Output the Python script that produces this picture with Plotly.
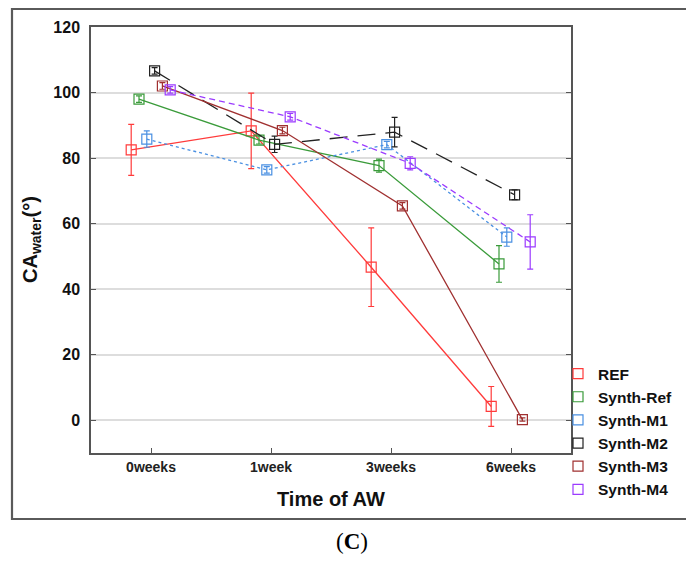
import plotly.graph_objects as go

categories = ["0weeks", "1week", "3weeks", "6weeks"]

series_names = ["REF", "Synth-Ref", "Synth-M1", "Synth-M2", "Synth-M3", "Synth-M4"]

ref_vals = [82.5, 88.3, 46.7, 4.2]
ref_err = [7.8, 11.5, 12.0, 6.1]

synth_ref_vals = [98.0, 85.5, 77.7, 47.7]
synth_ref_err = [1.0, 1.2, 2.0, 5.6]

m1_vals = [85.8, 76.4, 84.1, 55.9]
m1_err = [2.5, 1.0, 1.0, 2.8]

m2_vals = [106.6, 84.2, 87.9, 68.8]
m2_err = [1.0, 2.5, 4.5, 1.5]

m3_vals = [102.0, 88.4, 65.4, 0.2]
m3_err = [1.0, 1.0, 1.0, 0.5]

m4_vals = [100.8, 92.6, 78.4, 54.4]
m4_err = [1.0, 1.0, 2.0, 8.3]

y_ticks = [0, 20, 40, 60, 80, 100, 120]

values = [ref_vals, synth_ref_vals, m1_vals, m2_vals, m3_vals, m4_vals]
errors = [ref_err, synth_ref_err, m1_err, m2_err, m3_err, m4_err]

colors = ["#FF3B3B", "#3A9B3A", "#4A90E2", "#222222", "#A03030", "#9B3BFF"]
dashes = ["solid", "solid", "dot", "18px,10px", "solid", "6px,4px"]
offsets = [-0.165, -0.1, -0.035, 0.03, 0.095, 0.16]

fig = go.Figure()

for name, vals, errs, col, dsh, off in zip(series_names, values, errors, colors, dashes, offsets):
    xs = [i + off for i in range(len(categories))]
    fig.add_trace(go.Scatter(
        x=xs, y=vals, mode="lines+markers", name=name, showlegend=False,
        line=dict(color=col, width=1.3, dash=dsh),
        marker=dict(symbol="square-open", size=10, color=col, line=dict(width=1.2, color=col)),
        error_y=dict(type="data", array=errs, visible=True, color=col, thickness=1.2, width=3),
    ))

for name, col in zip(series_names, colors):
    fig.add_trace(go.Scatter(
        x=[None], y=[None], mode="markers", name=name,
        marker=dict(symbol="square-open", size=10, color=col, line=dict(width=1.2, color=col)),
    ))

L, R, T, B = 91, 115, 27, 108
W, H = 686, 561
pw, ph = W - L - R, H - T - B

def px_x(x):
    return (x - L) / pw

def px_y(y):
    return (H - B - y) / ph

frame_col = "#5A5A5A"
shapes = [
    dict(type="rect", xref="paper", yref="paper", x0=px_x(12), x1=px_x(700), y0=px_y(519), y1=px_y(9),
         line=dict(color=frame_col, width=2.2), fillcolor="rgba(0,0,0,0)", layer="above"),
]

annotations = [
    dict(text="<b>Time of AW</b>", xref="paper", yref="paper", x=0.5, y=px_y(499),
         showarrow=False, font=dict(size=20, color="#111111", family="Liberation Sans, Arial"),
         xanchor="center", yanchor="middle"),
    dict(text="<b>CA<sub>water</sub>(°)</b>", xref="paper", yref="paper", x=px_x(31), y=0.5,
         showarrow=False, textangle=-90, font=dict(size=20, color="#111111", family="Liberation Sans, Arial"),
         xanchor="center", yanchor="middle"),
    dict(text="(<b>C</b>)", xref="paper", yref="paper", x=px_x(352), y=px_y(541),
         showarrow=False, font=dict(size=23, color="#000000", family="Liberation Serif, Times New Roman"),
         xanchor="center", yanchor="middle"),
]

fig.update_layout(
    width=W, height=H,
    margin=dict(l=L, r=R, t=T, b=B, autoexpand=False),
    paper_bgcolor="white", plot_bgcolor="white",
    font=dict(family="Liberation Sans, Arial", color="#111111"),
    shapes=shapes,
    annotations=annotations,
    legend=dict(x=px_x(558), y=px_y(506), xanchor="left", yanchor="bottom",
                font=dict(size=15.5, color="#111111", family="Liberation Sans, Arial", weight="bold"),
                bgcolor="rgba(0,0,0,0)", borderwidth=0, itemwidth=30, tracegroupgap=0),
    xaxis=dict(range=[-0.5, 3.5], tickvals=list(range(len(categories))), ticktext=categories,
               showgrid=False, zeroline=False, showline=True, linecolor="#555555", linewidth=1.5,
               mirror=True, ticks="inside", ticklen=5, tickcolor="#555555",
               tickfont=dict(size=14, family="Liberation Sans, Arial", color="#222222", weight="bold")),
    yaxis=dict(range=[-10, 120], tickvals=y_ticks, showgrid=True, gridcolor="#DDDDDD", gridwidth=1.5,
               zeroline=False, showline=True, linecolor="#555555", linewidth=1.5,
               mirror="ticks", ticks="inside", ticklen=5, tickcolor="#555555",
               ticklabelstandoff=6,
               tickfont=dict(size=16, family="Liberation Sans, Arial", color="#111111", weight="bold")),
)

fig.write_html("out.html", config={"displayModeBar": False},
               post_script="document.body.style.margin='0px';document.body.style.overflow='hidden';")
